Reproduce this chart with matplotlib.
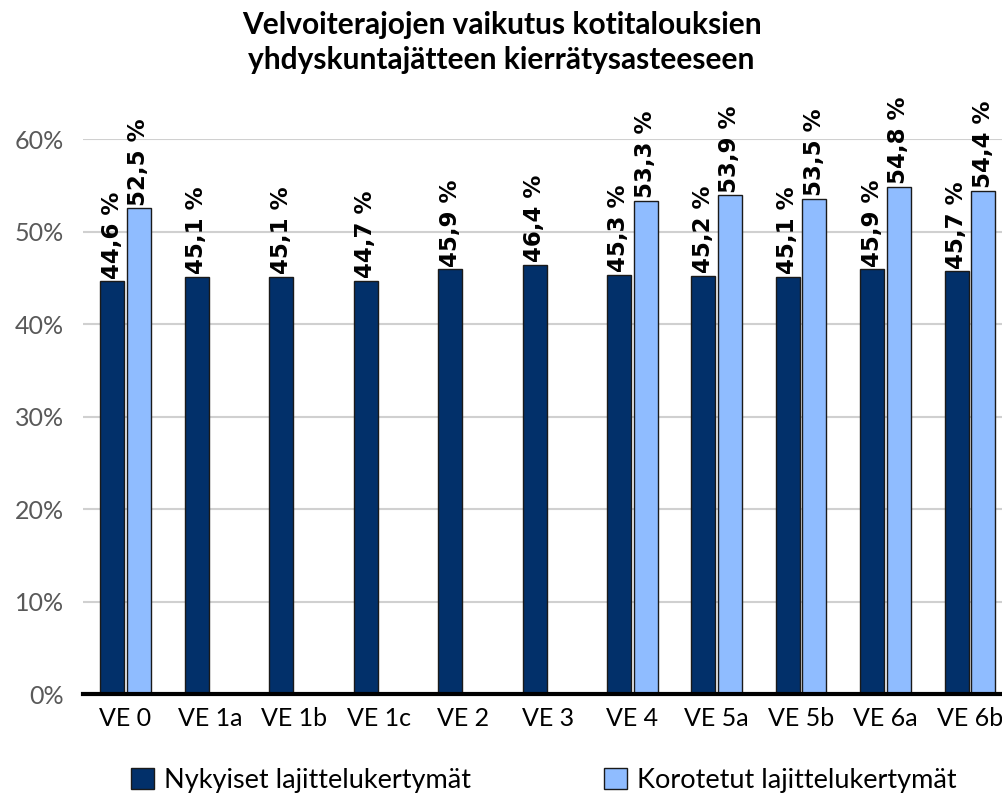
import numpy as np
import matplotlib
matplotlib.use('Agg')
import matplotlib.pyplot as plt
from matplotlib.patches import Patch

categories = ['VE 0', 'VE 1a', 'VE 1b', 'VE 1c', 'VE 2', 'VE 3',
              'VE 4', 'VE 5a', 'VE 5b', 'VE 6a', 'VE 6b']
current = [44.6, 45.1, 45.1, 44.7, 45.9, 46.4, 45.3, 45.2, 45.1, 45.9, 45.7]
raised = [52.5, None, None, None, None, None, 53.3, 53.9, 53.5, 54.8, 54.4]
series_names = ['Nykyiset lajittelukertymät', 'Korotetut lajittelukertymät']
title = 'Velvoiterajojen vaikutus kotitalouksien\nyhdyskuntajätteen kierrätysasteeseen'

DARK = '#02306a'
LIGHT = '#8fbcff'
EDGE = '#1a1a1a'
FONT = ['Lato', 'DejaVu Sans']

fig = plt.figure(figsize=(10.03, 7.98), dpi=100)
ax = fig.add_axes([0.0828, 0.1303, 0.9172, 0.6955])

x = np.arange(len(categories))
w = 0.284
off = 0.157


def label(ax, xpos, val):
    ax.annotate(f'{val:.1f} %'.replace('.', ','), (xpos, val),
                xytext=(0, 2), textcoords='offset points',
                rotation=90, ha='center', va='bottom', fontsize=16.5,
                fontweight='bold', family='DejaVu Sans', clip_on=False)


for i, v in enumerate(current):
    ax.bar(x[i] - off, v, w, color=DARK, edgecolor=EDGE, lw=1, zorder=3)
    label(ax, x[i] - off, v)
for i, v in enumerate(raised):
    if v is None:
        continue
    ax.bar(x[i] + off, v, w, color=LIGHT, edgecolor=EDGE, lw=1, zorder=3)
    label(ax, x[i] + off, v)

ax.set_xlim(-0.503, 10.39)
ax.set_ylim(0, 60)
ax.set_yticks(np.arange(0, 61, 10))
ax.set_yticklabels([f'{t}%' for t in range(0, 61, 10)], family=FONT,
                   fontsize=18, color='#595959')
ax.set_xticks(x)
ax.set_xticklabels(categories, family=FONT, fontsize=18)
ax.tick_params(axis='y', length=0, pad=14)
ax.tick_params(axis='x', length=0, pad=9)
ax.grid(axis='y', color='#d0d0d0', lw=1.5, zorder=0)
for s in ax.spines.values():
    s.set_visible(False)
ax.axhline(0, color='black', lw=3, zorder=4, clip_on=False)

fig.text(0.5, 0.986, title, ha='center', va='top', fontsize=21.5,
         fontweight='bold', family=FONT, linespacing=1.3)

handles = [Patch(facecolor=DARK, edgecolor=EDGE, label=series_names[0]),
           Patch(facecolor=LIGHT, edgecolor=EDGE, label=series_names[1])]
leg = fig.legend(handles=handles, loc='center', bbox_to_anchor=(0.542, 0.022),
                 ncol=2, frameon=False, handlelength=0.85, handleheight=0.85,
                 columnspacing=4.9, handletextpad=0.37,
                 prop={'family': FONT, 'size': 19.5})

fig.savefig('out.png', dpi=100)
